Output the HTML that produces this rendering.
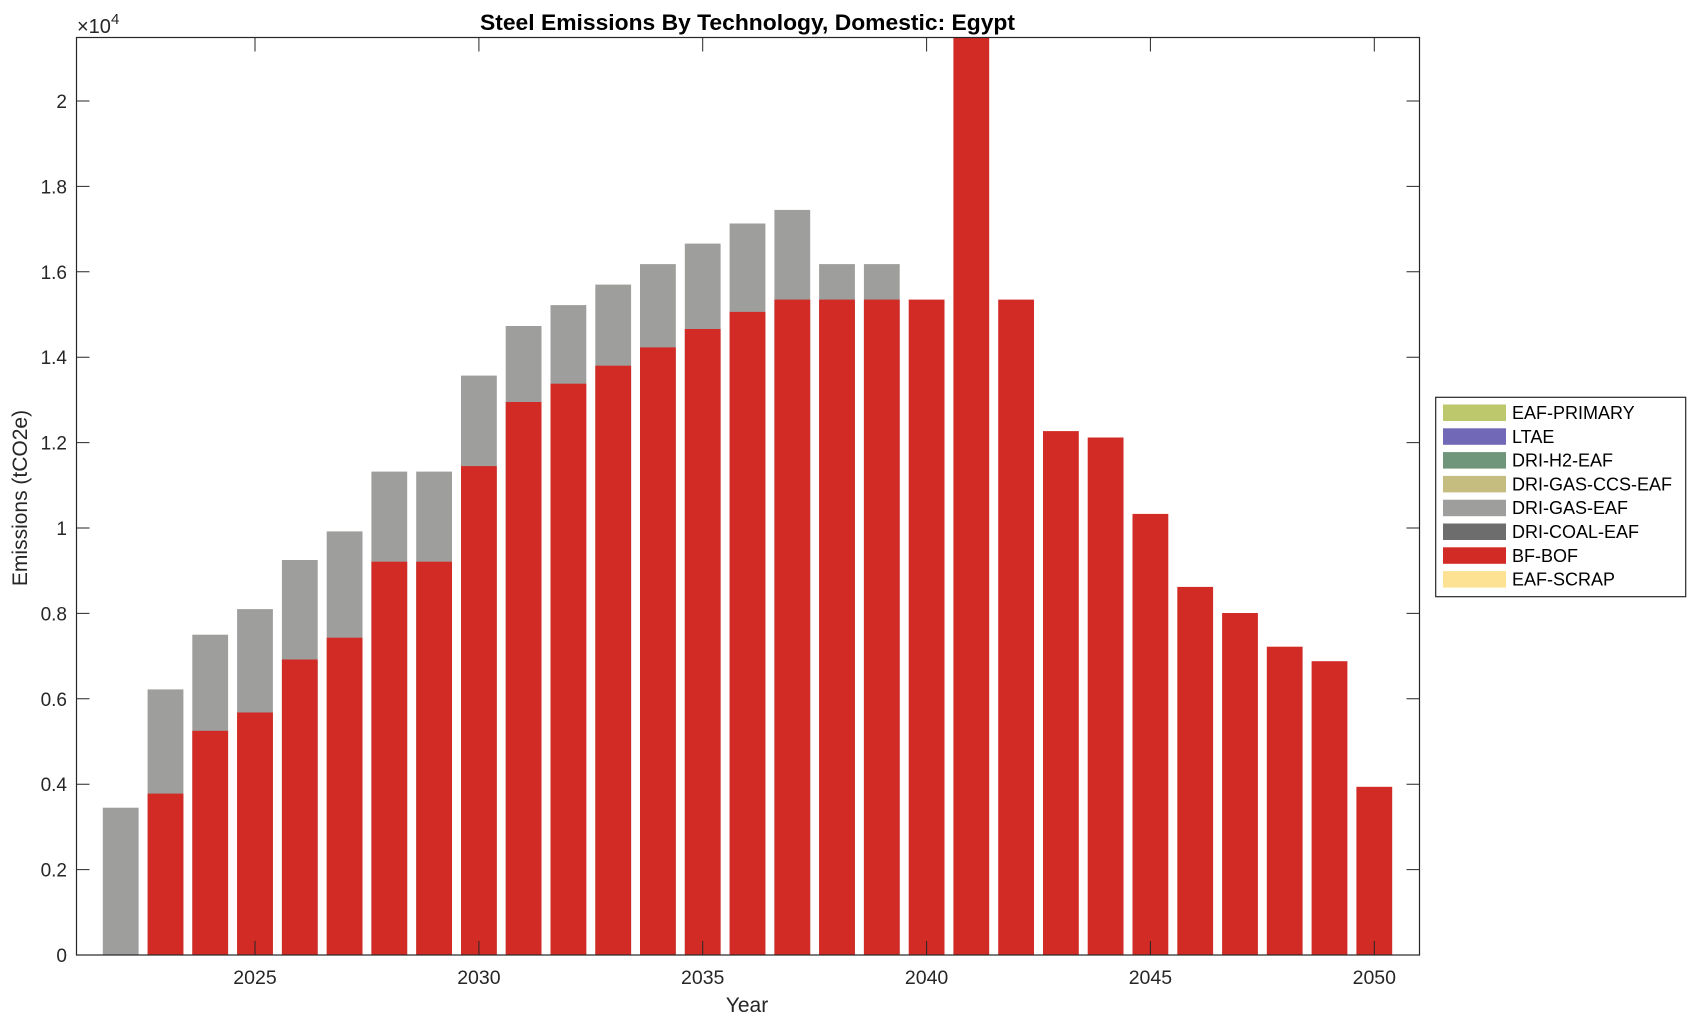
<!DOCTYPE html>
<html><head><meta charset="utf-8"><style>
html,body{margin:0;padding:0;background:#fff;}
svg{display:block;font-family:"Liberation Sans",Arial,sans-serif;}
</style></head><body>
<svg width="1696" height="1023" viewBox="0 0 1696 1023" xmlns="http://www.w3.org/2000/svg">
<defs><clipPath id="c"><rect x="76.5" y="37.5" width="1343" height="917.5"/></clipPath></defs>
<g clip-path="url(#c)">
<g fill="#9e9e9c">
<rect x="102.8" y="807.7" width="35.8" height="147.3"/>
<rect x="147.6" y="689.4" width="35.8" height="265.6"/>
<rect x="192.3" y="634.7" width="35.8" height="320.3"/>
<rect x="237.1" y="609.1" width="35.8" height="345.9"/>
<rect x="281.9" y="560.0" width="35.8" height="395.0"/>
<rect x="326.7" y="531.4" width="35.8" height="423.6"/>
<rect x="371.4" y="471.6" width="35.8" height="483.4"/>
<rect x="416.2" y="471.6" width="35.8" height="483.4"/>
<rect x="461.0" y="375.6" width="35.8" height="579.4"/>
<rect x="505.7" y="326.0" width="35.8" height="629.0"/>
<rect x="550.5" y="305.1" width="35.8" height="649.9"/>
<rect x="595.3" y="284.6" width="35.8" height="670.4"/>
<rect x="640.0" y="264.1" width="35.8" height="690.9"/>
<rect x="684.8" y="243.6" width="35.8" height="711.4"/>
<rect x="729.6" y="223.5" width="35.8" height="731.5"/>
<rect x="774.4" y="209.9" width="35.8" height="745.1"/>
<rect x="819.1" y="264.1" width="35.8" height="690.9"/>
<rect x="863.9" y="264.1" width="35.8" height="690.9"/>
</g>
<g fill="#d22b26">
<rect x="147.6" y="793.6" width="35.8" height="161.4"/>
<rect x="192.3" y="730.8" width="35.8" height="224.2"/>
<rect x="237.1" y="712.5" width="35.8" height="242.5"/>
<rect x="281.9" y="659.5" width="35.8" height="295.5"/>
<rect x="326.7" y="637.7" width="35.8" height="317.3"/>
<rect x="371.4" y="561.7" width="35.8" height="393.3"/>
<rect x="416.2" y="561.7" width="35.8" height="393.3"/>
<rect x="461.0" y="466.1" width="35.8" height="488.9"/>
<rect x="505.7" y="402.0" width="35.8" height="553.0"/>
<rect x="550.5" y="383.7" width="35.8" height="571.3"/>
<rect x="595.3" y="365.7" width="35.8" height="589.3"/>
<rect x="640.0" y="347.4" width="35.8" height="607.6"/>
<rect x="684.8" y="329.0" width="35.8" height="626.0"/>
<rect x="729.6" y="311.9" width="35.8" height="643.1"/>
<rect x="774.4" y="299.6" width="35.8" height="655.4"/>
<rect x="819.1" y="299.6" width="35.8" height="655.4"/>
<rect x="863.9" y="299.6" width="35.8" height="655.4"/>
<rect x="908.7" y="299.6" width="35.8" height="655.4"/>
<rect x="953.4" y="0" width="35.8" height="955"/>
<rect x="998.2" y="299.6" width="35.8" height="655.4"/>
<rect x="1043.0" y="431.1" width="35.8" height="523.9"/>
<rect x="1087.7" y="437.5" width="35.8" height="517.5"/>
<rect x="1132.5" y="513.9" width="35.8" height="441.1"/>
<rect x="1177.3" y="586.9" width="35.8" height="368.1"/>
<rect x="1222.1" y="613.0" width="35.8" height="342.0"/>
<rect x="1266.8" y="646.7" width="35.8" height="308.3"/>
<rect x="1311.6" y="661.2" width="35.8" height="293.8"/>
<rect x="1356.4" y="786.8" width="35.8" height="168.2"/>
</g>
</g>
<rect x="76.5" y="37.5" width="1343" height="917.5" fill="none" stroke="#262626" stroke-width="1.2"/>
<g stroke="#262626" stroke-width="1">
<path d="M76.5 955h13M76.5 869.6h13M76.5 784.2h13M76.5 698.8h13M76.5 613.4h13M76.5 528h13M76.5 442.6h13M76.5 357.2h13M76.5 271.8h13M76.5 186.4h13M76.5 101h13"/>
<path d="M1419.5 955h-13M1419.5 869.6h-13M1419.5 784.2h-13M1419.5 698.8h-13M1419.5 613.4h-13M1419.5 528h-13M1419.5 442.6h-13M1419.5 357.2h-13M1419.5 271.8h-13M1419.5 186.4h-13M1419.5 101h-13"/>
<path d="M255 955v-14M478.9 955v-14M702.7 955v-14M926.6 955v-14M1150.4 955v-14M1374.3 955v-14"/>
<path d="M255 37.5v14M478.9 37.5v14M702.7 37.5v14M926.6 37.5v14M1150.4 37.5v14M1374.3 37.5v14"/>
</g>
<g font-size="19" fill="#262626" text-anchor="end">
<text x="67" y="962">0</text>
<text x="67" y="876.6">0.2</text>
<text x="67" y="791.2">0.4</text>
<text x="67" y="705.8">0.6</text>
<text x="67" y="620.4">0.8</text>
<text x="67" y="535">1</text>
<text x="67" y="449.6">1.2</text>
<text x="67" y="364.2">1.4</text>
<text x="67" y="278.8">1.6</text>
<text x="67" y="193.4">1.8</text>
<text x="67" y="108">2</text>
</g>
<text x="77" y="33" font-size="20" fill="#262626">×10<tspan font-size="15" dy="-9">4</tspan></text>
<g font-size="19.5" fill="#262626" text-anchor="middle">
<text x="255" y="984">2025</text>
<text x="478.9" y="984">2030</text>
<text x="702.7" y="984">2035</text>
<text x="926.6" y="984">2040</text>
<text x="1150.4" y="984">2045</text>
<text x="1374.3" y="984">2050</text>
<text x="747" y="1012" font-size="21">Year</text>
<text transform="translate(27 498) rotate(-90)" font-size="21">Emissions (tCO2e)</text>
</g>
<text x="480" y="30" font-size="22" font-weight="bold" fill="#000" textLength="535" lengthAdjust="spacingAndGlyphs">Steel Emissions By Technology, Domestic: Egypt</text>
<rect x="1435.7" y="397.3" width="250" height="199.4" fill="#fff" stroke="#262626" stroke-width="1.2"/>
<g>
<rect x="1443" y="404.5" width="63" height="16.5" fill="#bdc76c"/>
<rect x="1443" y="428.3" width="63" height="16.5" fill="#7268b8"/>
<rect x="1443" y="452.1" width="63" height="16.5" fill="#6f957a"/>
<rect x="1443" y="475.9" width="63" height="16.5" fill="#c5bc7f"/>
<rect x="1443" y="499.7" width="63" height="16.5" fill="#9e9e9c"/>
<rect x="1443" y="523.5" width="63" height="16.5" fill="#6d6d6d"/>
<rect x="1443" y="547.3" width="63" height="16.5" fill="#d22b26"/>
<rect x="1443" y="571.1" width="63" height="16.5" fill="#fde293"/>
</g>
<g font-size="18" fill="#000">
<text x="1512" y="419">EAF-PRIMARY</text>
<text x="1512" y="442.8">LTAE</text>
<text x="1512" y="466.6">DRI-H2-EAF</text>
<text x="1512" y="490.4">DRI-GAS-CCS-EAF</text>
<text x="1512" y="514.2">DRI-GAS-EAF</text>
<text x="1512" y="538">DRI-COAL-EAF</text>
<text x="1512" y="561.8">BF-BOF</text>
<text x="1512" y="585.6">EAF-SCRAP</text>
</g>
</svg>
</body></html>
